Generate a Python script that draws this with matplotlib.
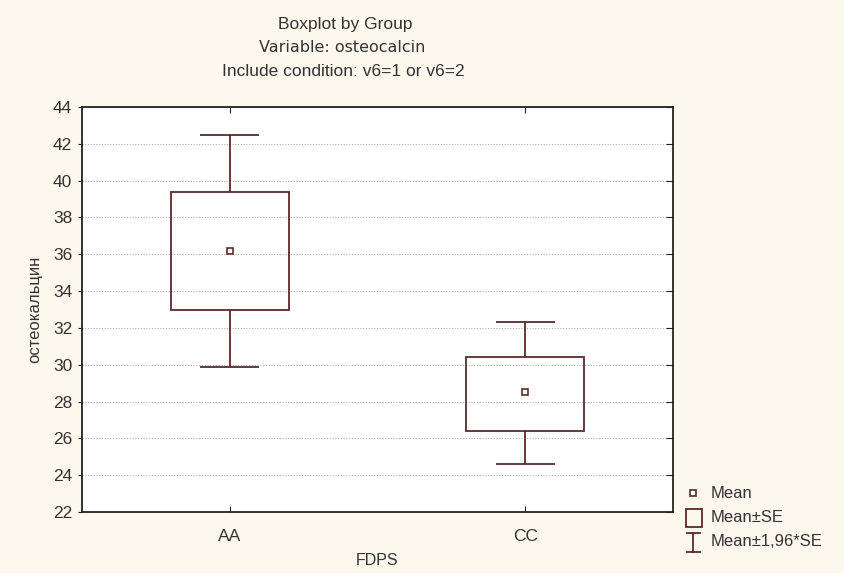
import matplotlib.pyplot as plt
from matplotlib.patches import Rectangle
from matplotlib.lines import Line2D

groups = ["AA", "CC"]
means = [36.2, 28.5]
se_low = [33.0, 26.4]
se_high = [39.4, 30.4]
ci_low = [29.9, 24.6]
ci_high = [42.5, 32.3]
yticks = [22, 24, 26, 28, 30, 32, 34, 36, 38, 40, 42, 44]
legend_labels = ["Mean", "Mean\u00b1SE", "Mean\u00b11,96*SE"]

bg = "#fcf8ee"
line_col = "#5b2b2b"
text_col = "#333333"

plt.rcParams["font.family"] = ["Liberation Sans", "DejaVu Sans"]

W, H = 845, 573
fig = plt.figure(figsize=(W / 100, H / 100), dpi=100, facecolor=bg)
ax = fig.add_axes([82 / W, 61 / H, 591 / W, 405 / H])
ax.set_facecolor("white")


def fx(px):
    return px / W


def fy(py):
    return 1 - py / H


pos = [1, 2]
box_w = 0.4
cap_w = 0.2
for x, m, lo, hi, clo, chi in zip(pos, means, se_low, se_high, ci_low, ci_high):
    ax.add_patch(Rectangle((x - box_w / 2, lo), box_w, hi - lo, fill=False,
                           edgecolor=line_col, lw=1.3, zorder=3))
    ax.vlines(x, hi, chi, color=line_col, lw=1.3, zorder=3)
    ax.vlines(x, clo, lo, color=line_col, lw=1.3, zorder=3)
    ax.hlines([chi, clo], x - cap_w / 2, x + cap_w / 2, color=line_col, lw=1.3, zorder=3)
    ax.plot(x, m, marker="s", ms=5, mfc="white", mec=line_col, mew=1.2, zorder=4)

ax.set_xlim(0.5, 2.5)
ax.set_ylim(22, 44)
ax.set_yticks(yticks)
ax.set_xticks(pos)
ax.set_xticklabels(groups)
ax.yaxis.grid(True, linestyle=(0, (1, 1.5)), color="#b0b0b0", lw=0.8)
ax.set_axisbelow(True)

for sp in ax.spines.values():
    sp.set_color("#222222")
    sp.set_linewidth(1.3)

ax.tick_params(axis="y", direction="out", length=3, labelsize=12.5, colors="#222222",
               labelcolor=text_col, right=True, pad=4)
ax.tick_params(axis="x", direction="in", length=4, labelsize=12.5, top=True,
               colors="#222222", labelcolor=text_col, pad=12)
# right ticks point inward
for t in ax.yaxis.get_major_ticks():
    t.tick2line.set_marker(0)
    t.tick2line.set_markersize(5)

ax.set_ylabel("остеокальцин", fontsize=12, color=text_col, labelpad=8)
ax.set_xlabel("FDPS", fontsize=11.5, color=text_col, labelpad=7)

fig.text(fx(345), fy(25), "Boxplot by Group", ha="center", va="center",
         fontsize=12.5, color=text_col)
fig.text(fx(342), fy(48), "Variable: osteocalcin", ha="center", va="center",
         fontsize=11.5, color=text_col, family="DejaVu Sans")
fig.text(fx(343), fy(71), "Include condition: v6=1 or v6=2", ha="center",
         va="center", fontsize=12.5, color=text_col)

# legend, drawn by hand to get the Statistica-style symbols
kw = dict(transform=fig.transFigure, color=line_col, lw=1.3)
fig.add_artist(Line2D([fx(693)], [fy(493)], ls="none", marker="s", ms=5, mfc="white",
                      mec=line_col, mew=1.2, transform=fig.transFigure))
fig.add_artist(Rectangle((fx(686), fy(527)), fx(16), 18 / H, fill=False,
                         edgecolor=line_col, lw=1.3, transform=fig.transFigure))
fig.add_artist(Line2D([fx(693), fx(693)], [fy(533), fy(552)], **kw))
fig.add_artist(Line2D([fx(687), fx(700)], [fy(533), fy(533)], **kw))
fig.add_artist(Line2D([fx(687), fx(700)], [fy(552), fy(552)], **kw))
for label, py in zip(legend_labels, [493, 518, 541]):
    fig.text(fx(711), fy(py), label, ha="left", va="center", fontsize=12,
             color=text_col)

fig.savefig("out.png", dpi=100, facecolor=bg)
